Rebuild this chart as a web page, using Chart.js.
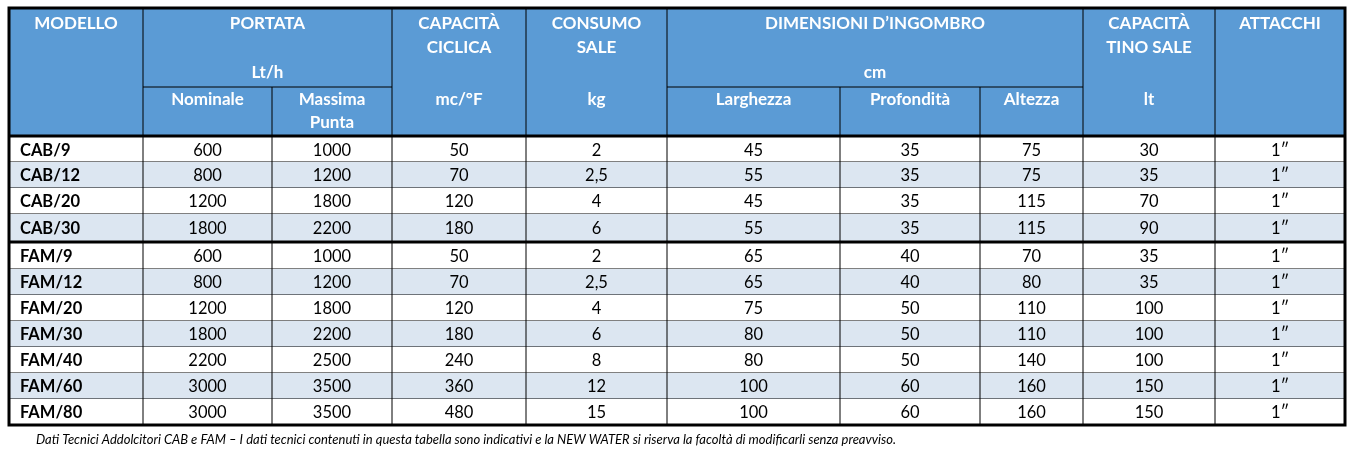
<!DOCTYPE html>
<html><head><meta charset="utf-8">
<script src="https://cdn.jsdelivr.net/npm/chart.js@4"></script>
<style>html,body{margin:0;padding:0;background:#fff}#w{width:1357px;height:454px}</style>
</head><body><div id="w"><canvas id="c"></canvas></div>
<script>
const models = ["CAB/9","CAB/12","CAB/20","CAB/30","FAM/9","FAM/12","FAM/20","FAM/30","FAM/40","FAM/60","FAM/80"];
const nominale = [600,800,1200,1800,600,800,1200,1800,2200,3000,3000];
const massima = [1000,1200,1800,2200,1000,1200,1800,2200,2500,3500,3500];
const capacita = [50,70,120,180,50,70,120,180,240,360,480];
const consumo = ["2","2,5","4","6","2","2,5","4","6","8","12","15"];
const larghezza = [45,55,45,55,65,65,75,80,80,100,100];
const profondita = [35,35,35,35,40,40,50,50,50,60,60];
const altezza = [75,75,115,115,70,80,110,110,140,160,160];
const tino = [30,35,70,90,35,35,100,100,100,150,150];
const attacchi = ["1″","1″","1″","1″","1″","1″","1″","1″","1″","1″","1″"];
const footnote = "Dati Tecnici Addolcitori CAB e FAM – I dati tecnici contenuti in questa tabella sono indicativi e la NEW WATER si riserva la facoltà di modificarli senza preavviso.";

const cols = [nominale,massima,capacita,consumo,larghezza,profondita,altezza,tino,attacchi];
const X = [9,143,272,392,526,667,840,980,1083,1215,1345];
const tops = [137,162,188,214,243,269,295,321,347,373,399];
const bots = [162,188,214,241,269,295,321,347,373,399,425];

const tablePlugin = {
  id:'table',
  afterDraw(chart){
    const ctx = chart.ctx, sx = chart.scales.x, sy = chart.scales.y;
    const px = v => sx.getPixelForValue(v), py = v => sy.getPixelForValue(v);
    const line = (x1,y1,x2,y2,w) => {ctx.beginPath();ctx.lineWidth=w;ctx.strokeStyle='#000';ctx.moveTo(x1,y1);ctx.lineTo(x2,y2);ctx.stroke();};
    const text = (t,x,y,font,color,align) => {ctx.font=font;ctx.fillStyle=color;ctx.textAlign=align||'center';ctx.textBaseline='middle';ctx.fillText(t,x,y);};
    ctx.save();
    ctx.fillStyle='#5b9bd5';
    ctx.fillRect(px(X[0]),py(9),px(X[10])-px(X[0]),py(135)-py(9));
    for(let r=0;r<models.length;r++){
      const top = tops[r], bot = bots[r];
      ctx.fillStyle = (r%2===1)? '#dce6f1' : '#ffffff';
      ctx.fillRect(px(X[0]),py(top),px(X[10])-px(X[0]),py(bot)-py(top));
      const cy = py((top+bot)/2+1);
      text(models[r],px(20),cy,'bold 16.5px Lato','#000','left');
      for(let c=0;c<cols.length;c++){
        text(String(cols[c][r]),px((X[c+1]+X[c+2])/2),cy,'16.5px Lato','#000');
      }
      if(r!==3 && r!==10) line(px(X[0]),py(bot),px(X[10]),py(bot),1);
    }
    for(let i=1;i<10;i++){
      const sub = (i===2||i===6||i===7);
      line(px(X[i]),py(sub?87:9),px(X[i]),py(425),1);
    }
    line(px(X[1]),py(87),px(X[3]),py(87),1);
    line(px(X[5]),py(87),px(X[8]),py(87),1);
    line(px(X[0]),py(136),px(X[10]),py(136),3);
    line(px(X[0]),py(242),px(X[10]),py(242),3);
    ctx.lineWidth=3;ctx.strokeStyle='#000';
    ctx.strokeRect(px(X[0]),py(8),px(X[10])-px(X[0]),py(425)-py(8));
    const hf='bold 17px Lato', w='#fff';
    const cx=i=>px((X[i]+X[i+1])/2);
    text('MODELLO',px(76),py(24),hf,w);
    text('PORTATA',px((X[1]+X[3])/2),py(24),hf,w);
    text('Lt/h',px((X[1]+X[3])/2),py(73),hf,w);
    text('Nominale',cx(1),py(100),hf,w);
    text('Massima',cx(2),py(100),hf,w);
    text('Punta',cx(2),py(123),hf,w);
    text('CAPACITÀ',cx(3),py(24),hf,w);
    text('CICLICA',cx(3),py(48),hf,w);
    text('mc/°F',cx(3),py(100),hf,w);
    text('CONSUMO',cx(4),py(24),hf,w);
    text('SALE',cx(4),py(48),hf,w);
    text('kg',cx(4),py(100),hf,w);
    text('DIMENSIONI D’INGOMBRO',px((X[5]+X[8])/2),py(24),hf,w);
    text('cm',px((X[5]+X[8])/2),py(73),hf,w);
    text('Larghezza',cx(5),py(100),hf,w);
    text('Profondità',cx(6),py(100),hf,w);
    text('Altezza',cx(7),py(100),hf,w);
    text('CAPACITÀ',cx(8),py(24),hf,w);
    text('TINO SALE',cx(8),py(48),hf,w);
    text('lt',cx(8),py(100),hf,w);
    text('ATTACCHI',cx(9),py(24),hf,w);
    text(footnote,px(36),py(440),'italic 13px Lato','#000','left');
    ctx.restore();
  }
};

new Chart(document.getElementById('c'),{
  type:'scatter',
  data:{datasets:[{data:[],pointRadius:0}]},
  options:{
    responsive:true,maintainAspectRatio:false,animation:false,
    layout:{padding:0},
    plugins:{legend:{display:false},tooltip:{enabled:false}},
    scales:{
      x:{type:'linear',min:0,max:1357,display:false},
      y:{type:'linear',min:0,max:454,reverse:true,display:false}
    }
  },
  plugins:[tablePlugin]
});
</script></body></html>
